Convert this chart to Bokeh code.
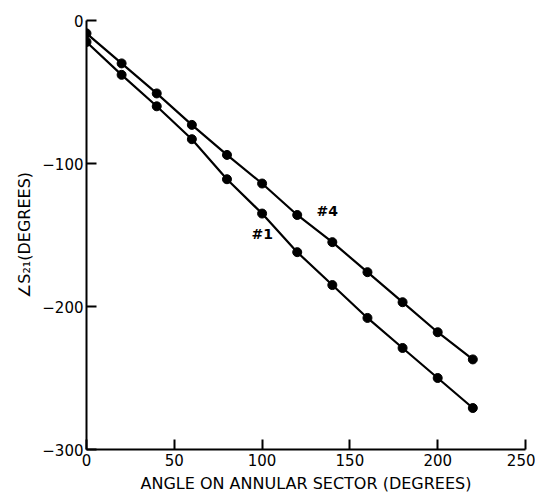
from bokeh.plotting import figure
from bokeh.models import Range1d, FixedTicker, Label, ColumnDataSource
from bokeh.embed import file_html
from bokeh.resources import INLINE

# Data
angle = [0, 20, 40, 60, 80, 100, 120, 140, 160, 180, 200, 220]
s21_sector4 = [-9, -30, -51, -73, -94, -114, -136, -155, -176, -197, -218, -237]
s21_sector1 = [-15, -38, -60, -83, -111, -135, -162, -185, -208, -229, -250, -271]
x_ticks = [0, 50, 100, 150, 200, 250]
y_ticks = [0, -100, -200, -300]
series_labels = ["#4", "#1"]
label_x = [131, 94]
label_y = [-133, -149]

FONT = "DejaVu Sans"

p = figure(width=535, height=498, output_backend="svg", toolbar_location=None,
           x_range=Range1d(0, 250), y_range=Range1d(-300, 0),
           min_border_left=86, min_border_top=20, min_border_right=10,
           min_border_bottom=49)

p.outline_line_color = None
p.xgrid.grid_line_color = None
p.ygrid.grid_line_color = None
p.background_fill_color = "white"

for ax in (p.xaxis, p.yaxis):
    ax.axis_line_color = "black"
    ax.axis_line_width = 2
    ax.major_tick_line_color = "black"
    ax.major_tick_line_width = 2
    ax.major_tick_in = 10
    ax.major_tick_out = 0
    ax.minor_tick_line_color = None
    ax.major_label_text_font = FONT
    ax.major_label_text_font_size = "15px"
    ax.major_label_text_color = "black"
    ax.axis_label_text_font = FONT
    ax.axis_label_text_font_size = "16px"
    ax.axis_label_text_font_style = "normal"
    ax.axis_label_text_color = "black"

p.xaxis.ticker = FixedTicker(ticks=x_ticks)
p.yaxis.ticker = FixedTicker(ticks=y_ticks)
p.xaxis.major_label_standoff = 4
p.yaxis.major_label_standoff = 3
p.xaxis.axis_label = "ANGLE ON ANNULAR SECTOR (DEGREES)"
p.yaxis.axis_label = "∠S₂₁(DEGREES)"
p.xaxis.axis_label_standoff = 5
p.yaxis.axis_label_standoff = 5

src = ColumnDataSource(dict(x=angle, y4=s21_sector4, y1=s21_sector1))
for col in ("y4", "y1"):
    p.line("x", col, source=src, line_color="black", line_width=2.2)
    p.scatter("x", col, source=src, size=9, fill_color="black", line_color="black")

for t, lx, ly in zip(series_labels, label_x, label_y):
    p.add_layout(Label(x=lx, y=ly, text=t, text_font=FONT, text_font_size="14px",
                       text_font_style="bold", text_color="black",
                       text_baseline="middle", text_align="left"))

open("out.html", "w").write(file_html(p, INLINE))
